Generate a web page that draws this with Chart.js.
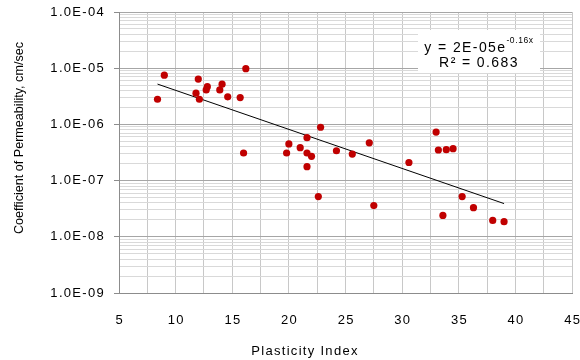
<!DOCTYPE html>
<html>
<head>
<meta charset="utf-8">
<script src="https://cdn.jsdelivr.net/npm/chart.js@4.4.1/dist/chart.umd.min.js"></script>
<style>
  html, body { margin: 0; padding: 0; background: #fff; }
  #wrap { width: 580px; height: 360px; position: relative; }
</style>
</head>
<body>
<div id="wrap"><canvas id="chart"></canvas></div>
<script>
// measured samples: plasticity index vs permeability (cm/sec)
const plasticityIndex = [
  8.4, 9.0, 11.8, 12.0, 12.1, 12.7, 12.8, 13.9, 14.1, 14.6,
  15.7, 16.0, 16.2, 19.8, 20.0, 21.0, 21.6, 21.6, 21.6, 22.0,
  22.6, 22.8, 24.2, 25.6, 27.1, 27.5, 30.6, 33.0, 33.2, 33.6,
  33.9, 34.5, 35.3, 36.3, 38.0, 39.0
];
const permeability = [
  2.8e-6, 7.5e-6, 3.6e-6, 6.4e-6, 2.8e-6, 4.1e-6, 4.7e-6, 4.1e-6, 5.2e-6, 3.1e-6,
  3.0e-6, 3.1e-7, 9.8e-6, 3.1e-7, 4.5e-7, 3.85e-7, 5.8e-7, 3.1e-7, 1.77e-7, 2.7e-7,
  5.2e-8, 8.9e-7, 3.4e-7, 2.97e-7, 4.7e-7, 3.6e-8, 2.1e-7, 7.3e-7, 3.5e-7, 2.4e-8,
  3.55e-7, 3.7e-7, 5.2e-8, 3.3e-8, 1.96e-8, 1.86e-8
];

// exponential trendline y = a * e^(b x), as printed on the chart
const TREND_A = 2e-5;
const TREND_B = -0.16;
const R_SQUARED = '0.683';

const xTicks = [5, 10, 15, 20, 25, 30, 35, 40, 45];
const xTickLabels = ['5', '10', '15', '20', '25', '30', '35', '40', '45'];
const yDecades = [-9, -8, -7, -6, -5, -4];
const yTickLabels = ['1.0E-09', '1.0E-08', '1.0E-07', '1.0E-06', '1.0E-05', '1.0E-04'];

const X_TITLE = 'Plasticity Index';
const Y_TITLE = 'Coefficient of Permeability, cm/sec';

const FONT = "'Liberation Sans', Arial, sans-serif";
const SPACING = '1.3px'; // text in this chart runs a bit wide

const points = plasticityIndex.map((x, i) => ({ x: x, y: permeability[i] }));
const xMin = Math.min(...plasticityIndex);
const xMax = Math.max(...plasticityIndex);
const trend = [xMin, xMax].map(x => ({ x: x, y: TREND_A * Math.exp(TREND_B * x) }));

function isDecade(v) {
  const l = Math.log10(v);
  return Math.abs(l - Math.round(l)) < 1e-6;
}

// tick labels, axis titles and the equation box
const annotations = {
  id: 'annotations',
  afterDatasetsDraw(chart) {
    const ctx = chart.ctx;
    const xs = chart.scales.x, ys = chart.scales.y;
    ctx.save();
    ctx.fillStyle = '#000';
    ctx.letterSpacing = SPACING;
    ctx.font = '13px ' + FONT;

    // y tick labels
    ctx.textAlign = 'right';
    ctx.textBaseline = 'middle';
    yDecades.forEach((e, i) => {
      ctx.fillText(yTickLabels[i], 105, ys.getPixelForValue(Math.pow(10, e)));
    });

    // x tick labels
    ctx.textAlign = 'center';
    xTicks.forEach((v, i) => {
      ctx.fillText(xTickLabels[i], xs.getPixelForValue(v) + 0.7, 320);
    });

    // x title
    ctx.textBaseline = 'alphabetic';
    ctx.fillText(X_TITLE, 305, 355);

    // y title, rotated
    ctx.save();
    ctx.letterSpacing = '0px';
    ctx.translate(23, 138);
    ctx.rotate(-Math.PI / 2);
    ctx.font = '12.6px ' + FONT;
    ctx.fillText(Y_TITLE, 0, 0);
    ctx.restore();

    // equation box
    const bx = 418, by = 30, bw = 122, bh = 43;
    ctx.fillStyle = '#fff';
    ctx.fillRect(bx, by, bw, bh);
    ctx.fillStyle = '#000';

    const main = 'y = 2E-05e';
    const sup = '-0.16x';
    ctx.letterSpacing = '1.4px';
    ctx.font = '14px ' + FONT;
    const wMain = ctx.measureText(main).width;
    ctx.letterSpacing = '0.6px';
    ctx.font = '8.5px ' + FONT;
    const wSup = ctx.measureText(sup).width;
    const cx = bx + bw / 2;
    const sx = cx - (wMain + wSup) / 2;
    ctx.textAlign = 'left';
    ctx.letterSpacing = '1.4px';
    ctx.font = '14px ' + FONT;
    ctx.fillText(main, sx, by + 22);
    ctx.letterSpacing = '0.6px';
    ctx.font = '8.5px ' + FONT;
    ctx.fillText(sup, sx + wMain, by + 13);

    ctx.letterSpacing = '1.4px';
    ctx.font = '14px ' + FONT;
    ctx.textAlign = 'center';
    ctx.fillText('R\u00b2 = ' + R_SQUARED, cx, by + 37);
    ctx.restore();
  }
};

new Chart(document.getElementById('chart'), {
  type: 'scatter',
  data: {
    datasets: [
      {
        label: 'Permeability',
        data: points,
        backgroundColor: '#c00000',
        borderColor: '#c00000',
        pointRadius: 3.6,
        pointHoverRadius: 3.6,
        borderWidth: 0
      },
      {
        label: 'Expon.',
        type: 'line',
        data: trend,
        borderColor: '#000',
        borderWidth: 1,
        pointRadius: 0,
        fill: false
      }
    ]
  },
  options: {
    responsive: true,
    maintainAspectRatio: false,
    animation: false,
    layout: { padding: { top: 12, right: 8, left: 0, bottom: 0 } },
    plugins: {
      legend: { display: false },
      tooltip: { enabled: false }
    },
    scales: {
      x: {
        type: 'linear',
        min: 5, max: 45,
        afterFit: s => { s.height = 67; },
        border: { color: '#8c8c8c' },
        grid: { color: '#c8c8c8', drawTicks: false },
        ticks: {
          stepSize: 2.5,
          autoSkip: false,
          maxRotation: 0,
          callback: () => ''
        }
      },
      y: {
        type: 'logarithmic',
        min: 1e-9, max: 1e-4,
        afterFit: s => { s.width = 119; },
        afterBuildTicks: s => {
          const ticks = [];
          yDecades.forEach(e => {
            for (let m = 1; m <= 9; m++) {
              if (e === -4 && m > 1) break;
              ticks.push({ value: m * Math.pow(10, e) });
            }
          });
          s.ticks = ticks;
        },
        border: { color: '#8c8c8c' },
        grid: {
          color: c => isDecade(c.tick.value) ? '#a6a6a6' : '#d9d9d9',
          tickColor: c => isDecade(c.tick.value) ? '#8c8c8c' : 'rgba(0,0,0,0)',
          tickLength: 5
        },
        ticks: {
          autoSkip: false,
          callback: () => ''
        }
      }
    }
  },
  plugins: [annotations]
});
</script>
</body>
</html>
